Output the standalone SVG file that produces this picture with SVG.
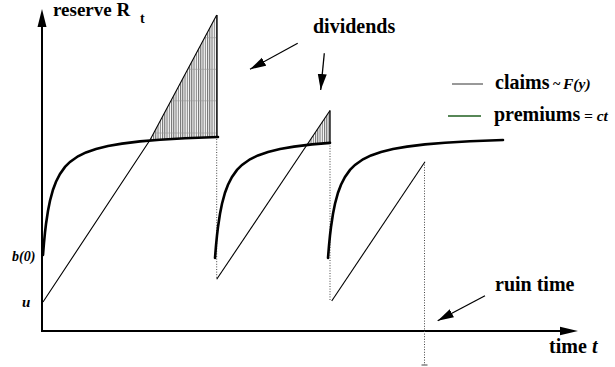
<svg xmlns="http://www.w3.org/2000/svg" width="615" height="367" viewBox="0 0 615 367">
<style>
.lbl{font-family:"Liberation Serif","Times New Roman",serif;font-weight:bold;fill:#000}
.it{font-style:italic}
.axis{stroke:#000;stroke-width:2;fill:none}
.curve{stroke:#000;stroke-width:2.6;fill:none;stroke-linecap:round}
.claim{stroke:#000;stroke-width:1.1;fill:none}
.dot{stroke:#444;stroke-width:1;stroke-dasharray:1,1.6;fill:none}
.ann{stroke:#000;stroke-width:1.3;fill:none}
</style>
<defs>
<marker id="ah" markerUnits="userSpaceOnUse" markerWidth="17" markerHeight="10" refX="16" refY="5" orient="auto">
<path d="M0,0.5 L16,5 L0,9.5 z" fill="#000"/>
</marker>
<pattern id="vh" patternUnits="userSpaceOnUse" x="0" y="0" width="2.25" height="40">
<line x1="0.6" y1="0" x2="0.6" y2="40" stroke="#000" stroke-width="0.7"/>
</pattern>
<clipPath id="c1"><polygon points="150,140.5 217,15 217,137 200,137.6 185,138.3 160,139.8"/></clipPath>
<clipPath id="c2"><polygon points="306.5,145.5 330,110.5 330,143 320,143.7 310,144.6"/></clipPath>
</defs>

<g id="axes">
<line class="axis" x1="42" y1="331" x2="42" y2="24"/>
<polygon points="42,9 37.5,27 46.5,27" fill="#000"/>
<line class="axis" x1="41" y1="331" x2="563" y2="331"/>
<polygon points="578,331 560,326.8 560,335.2" fill="#000"/>
</g>

<g id="hatches">
<rect x="148" y="10" width="72" height="135" fill="url(#vh)" clip-path="url(#c1)"/>
<g clip-path="url(#c1)" stroke="#999" stroke-width="0.6">
<line x1="140" y1="37.7" x2="220" y2="37.7"/>
<line x1="140" y1="69.3" x2="220" y2="69.3"/>
<line x1="140" y1="100.8" x2="220" y2="100.8"/>
<line x1="140" y1="133" x2="220" y2="133"/>
</g>
<rect x="304" y="108" width="28" height="40" fill="url(#vh)" clip-path="url(#c2)"/>
<line x1="217" y1="15" x2="217" y2="138" stroke="#000" stroke-width="1.3"/>
<line x1="330" y1="110.5" x2="330" y2="143" stroke="#000" stroke-width="1.3"/>
</g>

<g id="dotted">
<line class="dot" x1="216.7" y1="139" x2="216.7" y2="279"/>
<line class="dot" x1="330" y1="143" x2="330" y2="301"/>
<line class="dot" x1="424.5" y1="162" x2="424.5" y2="365"/>
<line x1="421.5" y1="365" x2="427.5" y2="365" stroke="#444" stroke-width="1"/>
</g>

<g id="claims">
<polyline class="claim" points="43,302 150,140 216.7,15"/>
<line class="claim" x1="216.7" y1="279.3" x2="330" y2="110.5"/>
<line class="claim" x1="331.7" y1="301" x2="425" y2="161.7"/>
</g>

<g id="premiums">
<path class="curve" d="M43,255 L44,242.6 L45,232.4 L46,224 L48,210.7 L50,200.7 L53,189.7 L56,181.7 L60,173.9 L65,166.9 L70,161.9 L78,156.3 L86,152.4 L96,148.9 L108,146 L122,143.6 L140,141.4 L160,139.8 L185,138.3 L218,137"/>
<path class="curve" transform="translate(172,3)" d="M43,255 L44,242.6 L45,232.4 L46,224 L48,210.7 L50,200.7 L53,189.7 L56,181.7 L60,173.9 L65,166.9 L70,161.9 L78,156.3 L86,152.4 L96,148.9 L108,146 L122,143.6 L140,141.4 L158,139.9"/>
<path class="curve" transform="translate(285,3)" d="M43,255 L44,242.6 L45,232.4 L46,224 L48,210.7 L50,200.7 L53,189.7 L56,181.7 L60,173.9 L65,166.9 L70,161.9 L78,156.3 L86,152.4 L96,148.9 L108,146 L122,143.6 L140,141.4 L160,139.8 L185,138.3 L218,137"/>
</g>

<g id="connectors">
<line class="ann" x1="297.7" y1="43.3" x2="250" y2="69.3" marker-end="url(#ah)"/>
<line class="ann" x1="324.3" y1="53.3" x2="320.7" y2="90" marker-end="url(#ah)"/>
<line class="ann" x1="485" y1="295.7" x2="437.7" y2="320.7" marker-end="url(#ah)"/>
</g>

<g id="legend">
<line x1="452" y1="84" x2="483" y2="84" stroke="#333" stroke-width="1"/>
<line x1="448" y1="116" x2="481" y2="116" stroke="#1f5f1f" stroke-width="1.6"/>
</g>

<g id="labels">
<text class="lbl" x="53" y="16" font-size="19">reserve R</text>
<text class="lbl" x="140" y="23" font-size="14">t</text>
<text class="lbl" x="313" y="33" font-size="20">dividends</text>
<text class="lbl" x="495" y="89" font-size="20">claims</text>
<text class="lbl" x="553" y="89" font-size="14">~</text>
<text class="lbl it" x="563" y="89" font-size="15.5">F(y)</text>
<text class="lbl" x="494" y="121" font-size="20">premiums</text>
<text class="lbl it" x="584" y="121" font-size="15.5">= ct</text>
<text class="lbl it" x="12" y="261" font-size="14">b(0)</text>
<text class="lbl it" x="22" y="307" font-size="15">u</text>
<text class="lbl" x="495" y="291" font-size="20">ruin time</text>
<text class="lbl" x="549" y="353" font-size="20">time</text>
<text class="lbl it" x="592" y="353" font-size="20">t</text>
</g>
</svg>
